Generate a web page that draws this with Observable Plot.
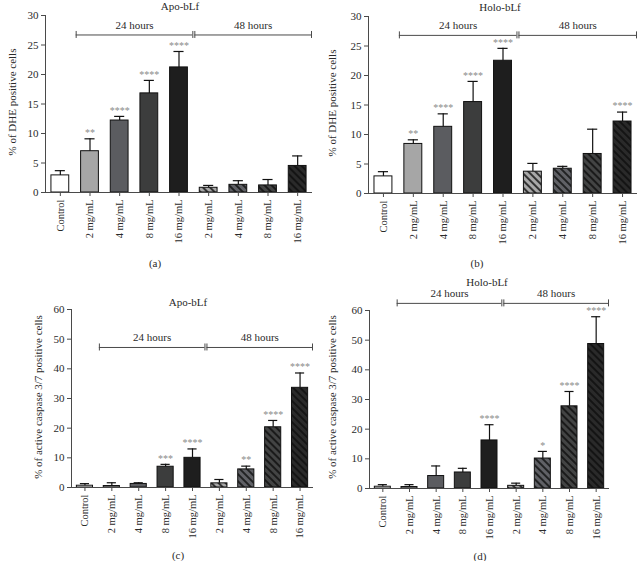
<!DOCTYPE html>
<html><head><meta charset="utf-8">
<script src="https://cdn.jsdelivr.net/npm/d3@7"></script>
<script src="https://cdn.jsdelivr.net/npm/@observablehq/plot@0.6"></script>
<style>
body{margin:0;background:#fff;}
#fig{position:relative;width:639px;height:561px;font-family:"Liberation Serif","DejaVu Serif",serif;color:#2a2a2a;overflow:hidden;}
.lbl{position:absolute;transform:translate(-50%,-50%);font-size:11px;white-space:nowrap;line-height:1;}
.ylab{position:absolute;transform:translate(-50%,-50%) rotate(-90deg);font-size:11px;white-space:nowrap;line-height:1;}
.panel{position:absolute;}
</style>
</head><body>
<svg width="0" height="0" style="position:absolute">
  <defs id="patdefs"></defs>
</svg>
<div id="fig"></div>
<script>
// ---------- data ----------
const categories = ["Control","2 mg/mL","4 mg/mL","8 mg/mL","16 mg/mL","2 mg/mL","4 mg/mL","8 mg/mL","16 mg/mL"];
const timepoint  = ["Control","24 hours","24 hours","24 hours","24 hours","48 hours","48 hours","48 hours","48 hours"];
const dose       = ["0","2","4","8","16","2","4","8","16"];

const dheApoMean  = [2.9, 7.0, 12.2, 16.8, 21.2, 0.8, 1.3, 1.2, 4.5];
const dheApoSD    = [0.8, 2.1, 0.7, 2.2, 2.7, 0.4, 0.7, 1.0, 1.7];
const dheApoSig   = ["", "**", "****", "****", "****", "", "", "", ""];

const dheHoloMean = [2.9, 8.4, 11.3, 15.5, 22.5, 3.7, 4.2, 6.7, 12.2];
const dheHoloSD   = [0.8, 0.7, 2.2, 3.5, 2.1, 1.4, 0.4, 4.2, 1.6];
const dheHoloSig  = ["", "**", "****", "****", "****", "", "", "", "****"];

const casApoMean  = [0.6, 0.5, 1.2, 7.0, 10.0, 1.4, 6.1, 20.3, 33.6];
const casApoSD    = [0.7, 1.1, 0.4, 0.8, 3.0, 1.3, 1.1, 2.3, 5.0];
const casApoSig   = ["", "", "", "***", "****", "", "**", "****", "****"];

const casHoloMean = [0.6, 0.5, 4.2, 5.4, 16.2, 0.9, 10.1, 27.7, 48.7];
const casHoloSD   = [0.7, 0.8, 3.4, 1.4, 5.3, 0.9, 2.4, 5.0, 9.2];
const casHoloSig  = ["", "", "", "", "****", "", "*", "****", "****"];

const titles   = ["Apo-bLf", "Holo-bLf", "Apo-bLf", "Holo-bLf"];
const yLabels  = ["% of DHE positive cells", "% of DHE positive cells", "% of active caspase 3/7 positive cells", "% of active caspase 3/7 positive cells"];
const captions = ["(a)", "(b)", "(c)", "(d)"];
const yMaxes   = [30, 30, 60, 60];
const yTickSteps = [5, 5, 10, 10];

// ---------- styles / layout ----------
const solid = {"0": "#ffffff", "2": "#a6a6a6", "4": "#5b5c60", "8": "#3c3d3d", "16": "#1e1e1e"};
const hatchBase = {"2": "#a8a8a8", "4": "#606166", "8": "#434444", "16": "#2a2a2a"};
const defs = document.getElementById("patdefs");
for (const k of Object.keys(hatchBase)) {
  defs.insertAdjacentHTML("beforeend",
    `<pattern id="hatch-${k}" patternUnits="userSpaceOnUse" width="5" height="5" patternTransform="rotate(-45)">
       <rect width="5" height="5" fill="${hatchBase[k]}"/>
       <line x1="1" y1="0" x2="1" y2="5" stroke="#0c0c0c" stroke-width="1.5"/>
     </pattern>`);
}
const fillFor = i => timepoint[i] === "48 hours" ? `url(#hatch-${dose[i]})` : solid[dose[i]];

const layout = [
  {left: 0,   top: 0,   width: 320, height: 275, mt: 15, mb: 83, ml: 45, mr: 8,  bracketY: 26.7, tx: 180, ty: 6,   cx: 155, cy: 263, yx: 12,  yy: 102},
  {left: 320, top: 0,   width: 319, height: 275, mt: 16, mb: 82, ml: 48, mr: 2,  bracketY: 26.8, tx: 500, ty: 7,   cx: 477, cy: 263, yx: 332, yy: 103},
  {left: 0,   top: 280, width: 320, height: 275, mt: 29, mb: 68, ml: 71, mr: 7,  bracketY: 47.2, tx: 188, ty: 302, cx: 178, cy: 555, yx: 38,  yy: 397},
  {left: 320, top: 280, width: 319, height: 275, mt: 30, mb: 67, ml: 49, mr: 30, bracketY: 62.4, tx: 487, ty: 282, cx: 480, cy: 556, yx: 332, yy: 397}
];
const series = [
  [dheApoMean, dheApoSD, dheApoSig],
  [dheHoloMean, dheHoloSD, dheHoloSig],
  [casApoMean, casApoSD, casApoSig],
  [casHoloMean, casHoloSD, casHoloSig]
];
const axisColor = "#4a4a4a";
const fig = document.getElementById("fig");

series.forEach(([mean, sd, sig], p) => {
  const L = layout[p];
  const rows = categories.map((c, i) => ({i, c, t: timepoint[i], mean: mean[i], sd: sd[i], top: mean[i] + sd[i], sig: sig[i]}));
  const groups = ["24 hours", "48 hours"].map(t => {
    const idx = rows.filter(r => r.t === t).map(r => r.i);
    return {t, from: d3.min(idx) - 0.5, to: d3.max(idx) + 0.5, y: L.bracketY};
  });
  const yMax = yMaxes[p];
  const chart = Plot.plot({
    width: L.width, height: L.height,
    marginTop: L.mt, marginBottom: L.mb, marginLeft: L.ml, marginRight: L.mr,
    x: {domain: [-0.5, categories.length - 0.5], axis: null},
    y: {domain: [0, yMax], axis: null},
    color: {type: "identity"},
    style: {fontFamily: '"Liberation Serif", serif', fontSize: "11px", color: "#2a2a2a", background: "transparent", overflow: "visible"},
    marks: [
      Plot.rectY(rows, {x1: d => d.i - 0.3, x2: d => d.i + 0.3, y1: 0, y2: "mean", fill: d => fillFor(d.i), stroke: "#111", strokeWidth: 1}),
      Plot.ruleX(rows, {x: "i", y1: "mean", y2: "top", stroke: "#111", strokeWidth: 1.2}),
      Plot.ruleY(rows, {y: "top", x1: d => d.i - 0.17, x2: d => d.i + 0.17, stroke: "#111", strokeWidth: 1.2}),
      Plot.text(rows.filter(r => r.sig), {x: "i", y: "top", text: "sig", dy: -6, fill: "#8a8a8a", fontSize: 10}),
      Plot.ruleX([-0.5], {x: d => d, y1: 0, y2: yMax, stroke: axisColor, strokeWidth: 1}),
      Plot.ruleY([0], {y: d => d, stroke: axisColor, strokeWidth: 1.2}),
      Plot.axisY({ticks: d3.range(0, yMax + 1, yTickSteps[p]), tickSize: 4, tickPadding: 3, label: null, fontSize: 11, stroke: axisColor}),
      Plot.axisX({ticks: d3.range(categories.length), tickFormat: i => categories[i], tickRotate: -90, tickSize: 4, tickPadding: 3, label: null, fontSize: 10.5, stroke: axisColor}),
      Plot.ruleY(groups, {y: "y", x1: "from", x2: "to", insetLeft: 1, insetRight: 1, stroke: axisColor, strokeWidth: 1}),
      Plot.ruleX(groups, {x: "from", y1: "y", y2: "y", insetTop: -3.5, insetBottom: -3.5, dx: 1, stroke: axisColor, strokeWidth: 1}),
      Plot.ruleX(groups, {x: "to", y1: "y", y2: "y", insetTop: -3.5, insetBottom: -3.5, dx: -1, stroke: axisColor, strokeWidth: 1}),
      Plot.text(groups, {x: d => (d.from + d.to) / 2, y: "y", text: "t", dy: -10, fontSize: 11, fill: "#2a2a2a"})
    ]
  });
  const holder = document.createElement("div");
  holder.className = "panel";
  holder.style.left = L.left + "px";
  holder.style.top = L.top + "px";
  holder.appendChild(chart);
  fig.appendChild(holder);

  const t = document.createElement("div");
  t.className = "lbl"; t.textContent = titles[p];
  t.style.left = L.tx + "px"; t.style.top = L.ty + "px";
  fig.appendChild(t);
  const c = document.createElement("div");
  c.className = "lbl"; c.textContent = captions[p];
  c.style.left = L.cx + "px"; c.style.top = L.cy + "px";
  fig.appendChild(c);
  const y = document.createElement("div");
  y.className = "ylab"; y.textContent = yLabels[p];
  y.style.left = L.yx + "px"; y.style.top = L.yy + "px";
  fig.appendChild(y);
});
</script>
</body></html>
